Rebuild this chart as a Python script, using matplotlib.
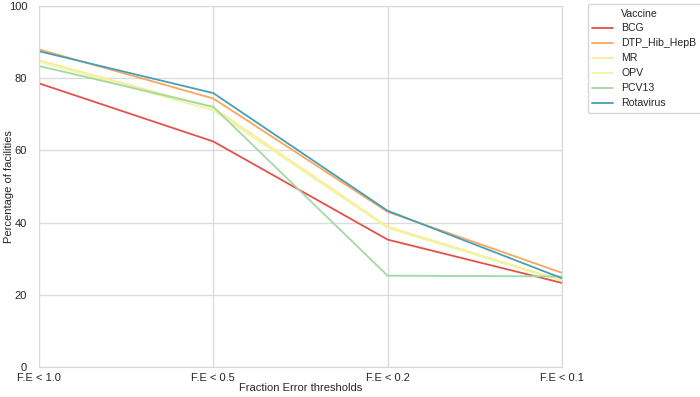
import numpy as np
import matplotlib
matplotlib.use("Agg")
import matplotlib.pyplot as plt
import seaborn as sns
from matplotlib.lines import Line2D

# thresholds on the x axis
thresholds = ['F.E < 1.0', 'F.E < 0.5', 'F.E < 0.2', 'F.E < 0.1']

# percentage of facilities per vaccine
bcg = [78.6, 62.5, 35.3, 23.3]
dtp_hib_hepb = [88.0, 74.4, 43.0, 26.1]
mr = [85.0, 71.8, 38.9, 24.0]
opv = [84.6, 71.1, 38.5, 23.8]
pcv13 = [83.4, 72.1, 25.3, 25.1]
rotavirus = [87.5, 75.9, 43.3, 24.6]

vaccines = ['BCG', 'DTP_Hib_HepB', 'MR', 'OPV', 'PCV13', 'Rotavirus']
series = [bcg, dtp_hib_hepb, mr, opv, pcv13, rotavirus]

sns.set_style("whitegrid")
plt.rcParams['font.family'] = ['Liberation Sans', 'DejaVu Sans']

colors = sns.color_palette("Spectral", 6)

fig = plt.figure(figsize=(7, 3.97), dpi=100)
ax = fig.add_axes([0.0557, 0.0756, 0.747, 0.909])

x = np.arange(len(thresholds))
for name, vals, c in zip(vaccines, series, colors):
    ax.plot(x, vals, color=c, linewidth=1.3, label=name)

ax.set_xlim(0, 3)
ax.set_ylim(0, 100)
ax.set_yticks([0, 20, 40, 60, 80, 100])
ax.set_xticks(x)
ax.set_xticklabels(thresholds)
ax.tick_params(axis='x', labelsize=8, pad=1)
ax.tick_params(axis='y', labelsize=8, pad=5)
ax.set_xlabel('Fraction Error thresholds', fontsize=8, labelpad=0)
ax.set_ylabel('Percentage of facilities', fontsize=8)
ax.yaxis.set_label_coords(-0.048, 0.5)

for s in ax.spines.values():
    s.set_color('#d9d9d9')
ax.grid(color='#dcdcdc', linewidth=1)

# legend with title drawn as an entry, like old seaborn
handles, labels = ax.get_legend_handles_labels()
title_handle = Line2D([], [], linestyle='none')
ax.legend([title_handle] + handles, ['Vaccine'] + labels,
          loc='upper left', bbox_to_anchor=(1.05, 1.005), fontsize=7.6,
          frameon=True, handlelength=2.0, borderaxespad=0.0,
          labelspacing=0.47, handletextpad=0.75)

fig.savefig('out.png', dpi=100)
